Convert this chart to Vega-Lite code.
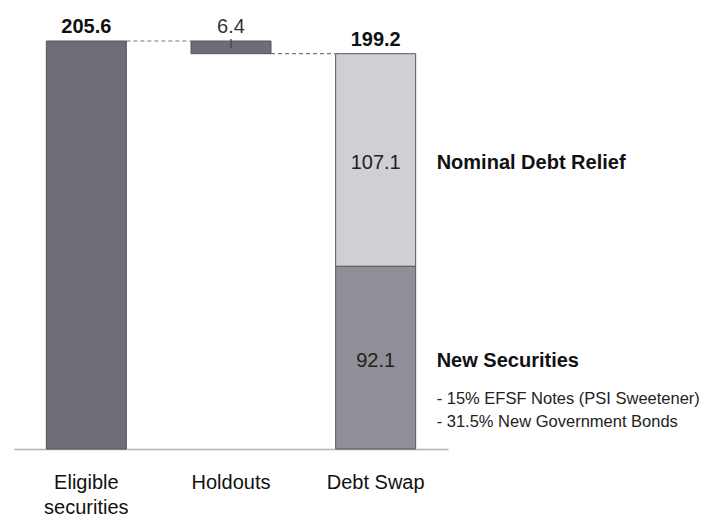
{
  "$schema": "https://vega.github.io/schema/vega-lite/v6.json",
  "autosize": {"type": "none"},
  "width": 434,
  "height": 408,
  "padding": {"left": 14, "top": 41, "right": 258, "bottom": 70},
  "background": "white",
  "config": {"view": {"stroke": null}, "font": "Liberation Sans"},
  "datasets": {
    "bars": [
      {"cat": "Eligible securities", "part": "Eligible", "start": 0, "end": 205.6, "value": "205.6"},
      {"cat": "Holdouts", "part": "Holdouts", "start": 199.2, "end": 205.6, "value": "6.4"},
      {"cat": "Debt Swap", "part": "New Securities", "start": 0, "end": 92.1, "value": "92.1"},
      {"cat": "Debt Swap", "part": "Nominal Debt Relief", "start": 92.1, "end": 199.2, "value": "107.1"}
    ],
    "totals": [
      {"cat": "Eligible securities", "total": 205.6, "label": "205.6"},
      {"cat": "Holdouts", "total": 205.6, "label": "6.4"},
      {"cat": "Debt Swap", "total": 199.2, "label": "199.2"}
    ],
    "links": [
      {"from": "Eligible securities", "to": "Holdouts", "level": 205.6},
      {"from": "Holdouts", "to": "Debt Swap", "level": 199.2}
    ],
    "marker": [
      {"cat": "Holdouts", "hi": 206.6, "lo": 202.1}
    ]
  },
  "encoding": {
    "x": {
      "field": "cat",
      "type": "nominal",
      "sort": ["Eligible securities", "Holdouts", "Debt Swap"],
      "scale": {"domain": ["Eligible securities", "Holdouts", "Debt Swap"], "paddingInner": 0, "paddingOuter": 0},
      "axis": {
        "title": null,
        "labelAngle": 0,
        "ticks": false,
        "domainColor": "#b0b0b0",
        "domainWidth": 1.5,
        "labelFontSize": 20,
        "labelColor": "#111111",
        "labelPadding": 23,
        "labelLineHeight": 25,
        "labelExpr": "datum.value == 'Eligible securities' ? ['Eligible', 'securities'] : datum.value"
      }
    }
  },
  "layer": [
    {
      "data": {"name": "links"},
      "mark": {"type": "rule", "color": "#777777", "strokeDash": [4, 3], "strokeWidth": 1.2, "xOffset": 40, "x2Offset": -40},
      "encoding": {
        "x": {"field": "from", "type": "nominal"},
        "x2": {"field": "to"},
        "y": {"field": "level", "type": "quantitative", "scale": {"domain": [0, 205.6], "nice": false, "zero": true}, "axis": null}
      }
    },
    {
      "data": {"name": "bars"},
      "mark": {"type": "bar", "width": 80, "stroke": "#55565b", "strokeWidth": 1},
      "encoding": {
        "y": {"field": "start", "type": "quantitative", "scale": {"domain": [0, 205.6], "nice": false}, "axis": null},
        "y2": {"field": "end"},
        "color": {
          "field": "part",
          "type": "nominal",
          "scale": {"domain": ["Eligible", "Holdouts", "New Securities", "Nominal Debt Relief"], "range": ["#6d6e75", "#6d6e75", "#8f9097", "#cfd0d4"]},
          "legend": null
        }
      }
    },
    {
      "data": {"name": "marker"},
      "mark": {"type": "rule", "color": "#444448", "strokeWidth": 1.3},
      "encoding": {
        "y": {"field": "hi", "type": "quantitative", "scale": {"domain": [0, 205.6], "nice": false}, "axis": null},
        "y2": {"field": "lo"}
      }
    },
    {
      "data": {"name": "totals"},
      "transform": [{"filter": "datum.cat != 'Holdouts'"}],
      "mark": {"type": "text", "fontSize": 20, "fontWeight": "bold", "baseline": "alphabetic", "dy": -8, "color": "#111111"},
      "encoding": {
        "y": {"field": "total", "type": "quantitative", "scale": {"domain": [0, 205.6], "nice": false}, "axis": null},
        "text": {"field": "label"}
      }
    },
    {
      "data": {"name": "totals"},
      "transform": [{"filter": "datum.cat == 'Holdouts'"}],
      "mark": {"type": "text", "fontSize": 20, "baseline": "alphabetic", "dy": -8, "color": "#333333"},
      "encoding": {
        "y": {"field": "total", "type": "quantitative", "scale": {"domain": [0, 205.6], "nice": false}, "axis": null},
        "text": {"field": "label"}
      }
    },
    {
      "data": {"name": "bars"},
      "transform": [{"filter": "datum.cat == 'Debt Swap'"}, {"calculate": "(datum.start + datum.end) / 2", "as": "mid"}],
      "mark": {"type": "text", "fontSize": 20, "baseline": "middle", "dy": 3, "color": "#222222"},
      "encoding": {
        "y": {"field": "mid", "type": "quantitative", "scale": {"domain": [0, 205.6], "nice": false}, "axis": null},
        "text": {"field": "value"}
      }
    },
    {
      "data": {"name": "bars"},
      "transform": [{"filter": "datum.cat == 'Debt Swap'"}, {"calculate": "(datum.start + datum.end) / 2", "as": "mid"}],
      "mark": {"type": "text", "fontSize": 20, "fontWeight": "bold", "align": "left", "baseline": "middle", "dx": 61, "dy": 3, "color": "#111111"},
      "encoding": {
        "y": {"field": "mid", "type": "quantitative", "scale": {"domain": [0, 205.6], "nice": false}, "axis": null},
        "text": {"field": "part"}
      }
    },
    {
      "data": {"name": "bars"},
      "transform": [{"filter": "datum.part == 'New Securities'"}, {"calculate": "(datum.start + datum.end) / 2", "as": "mid"}],
      "mark": {"type": "text", "fontSize": 16.5, "align": "left", "baseline": "alphabetic", "dx": 61, "dy": 46, "lineHeight": 23, "color": "#222222",
        "text": ["- 15% EFSF Notes (PSI Sweetener)", "- 31.5% New Government Bonds"]},
      "encoding": {
        "y": {"field": "mid", "type": "quantitative", "scale": {"domain": [0, 205.6], "nice": false}, "axis": null}
      }
    }
  ]
}
